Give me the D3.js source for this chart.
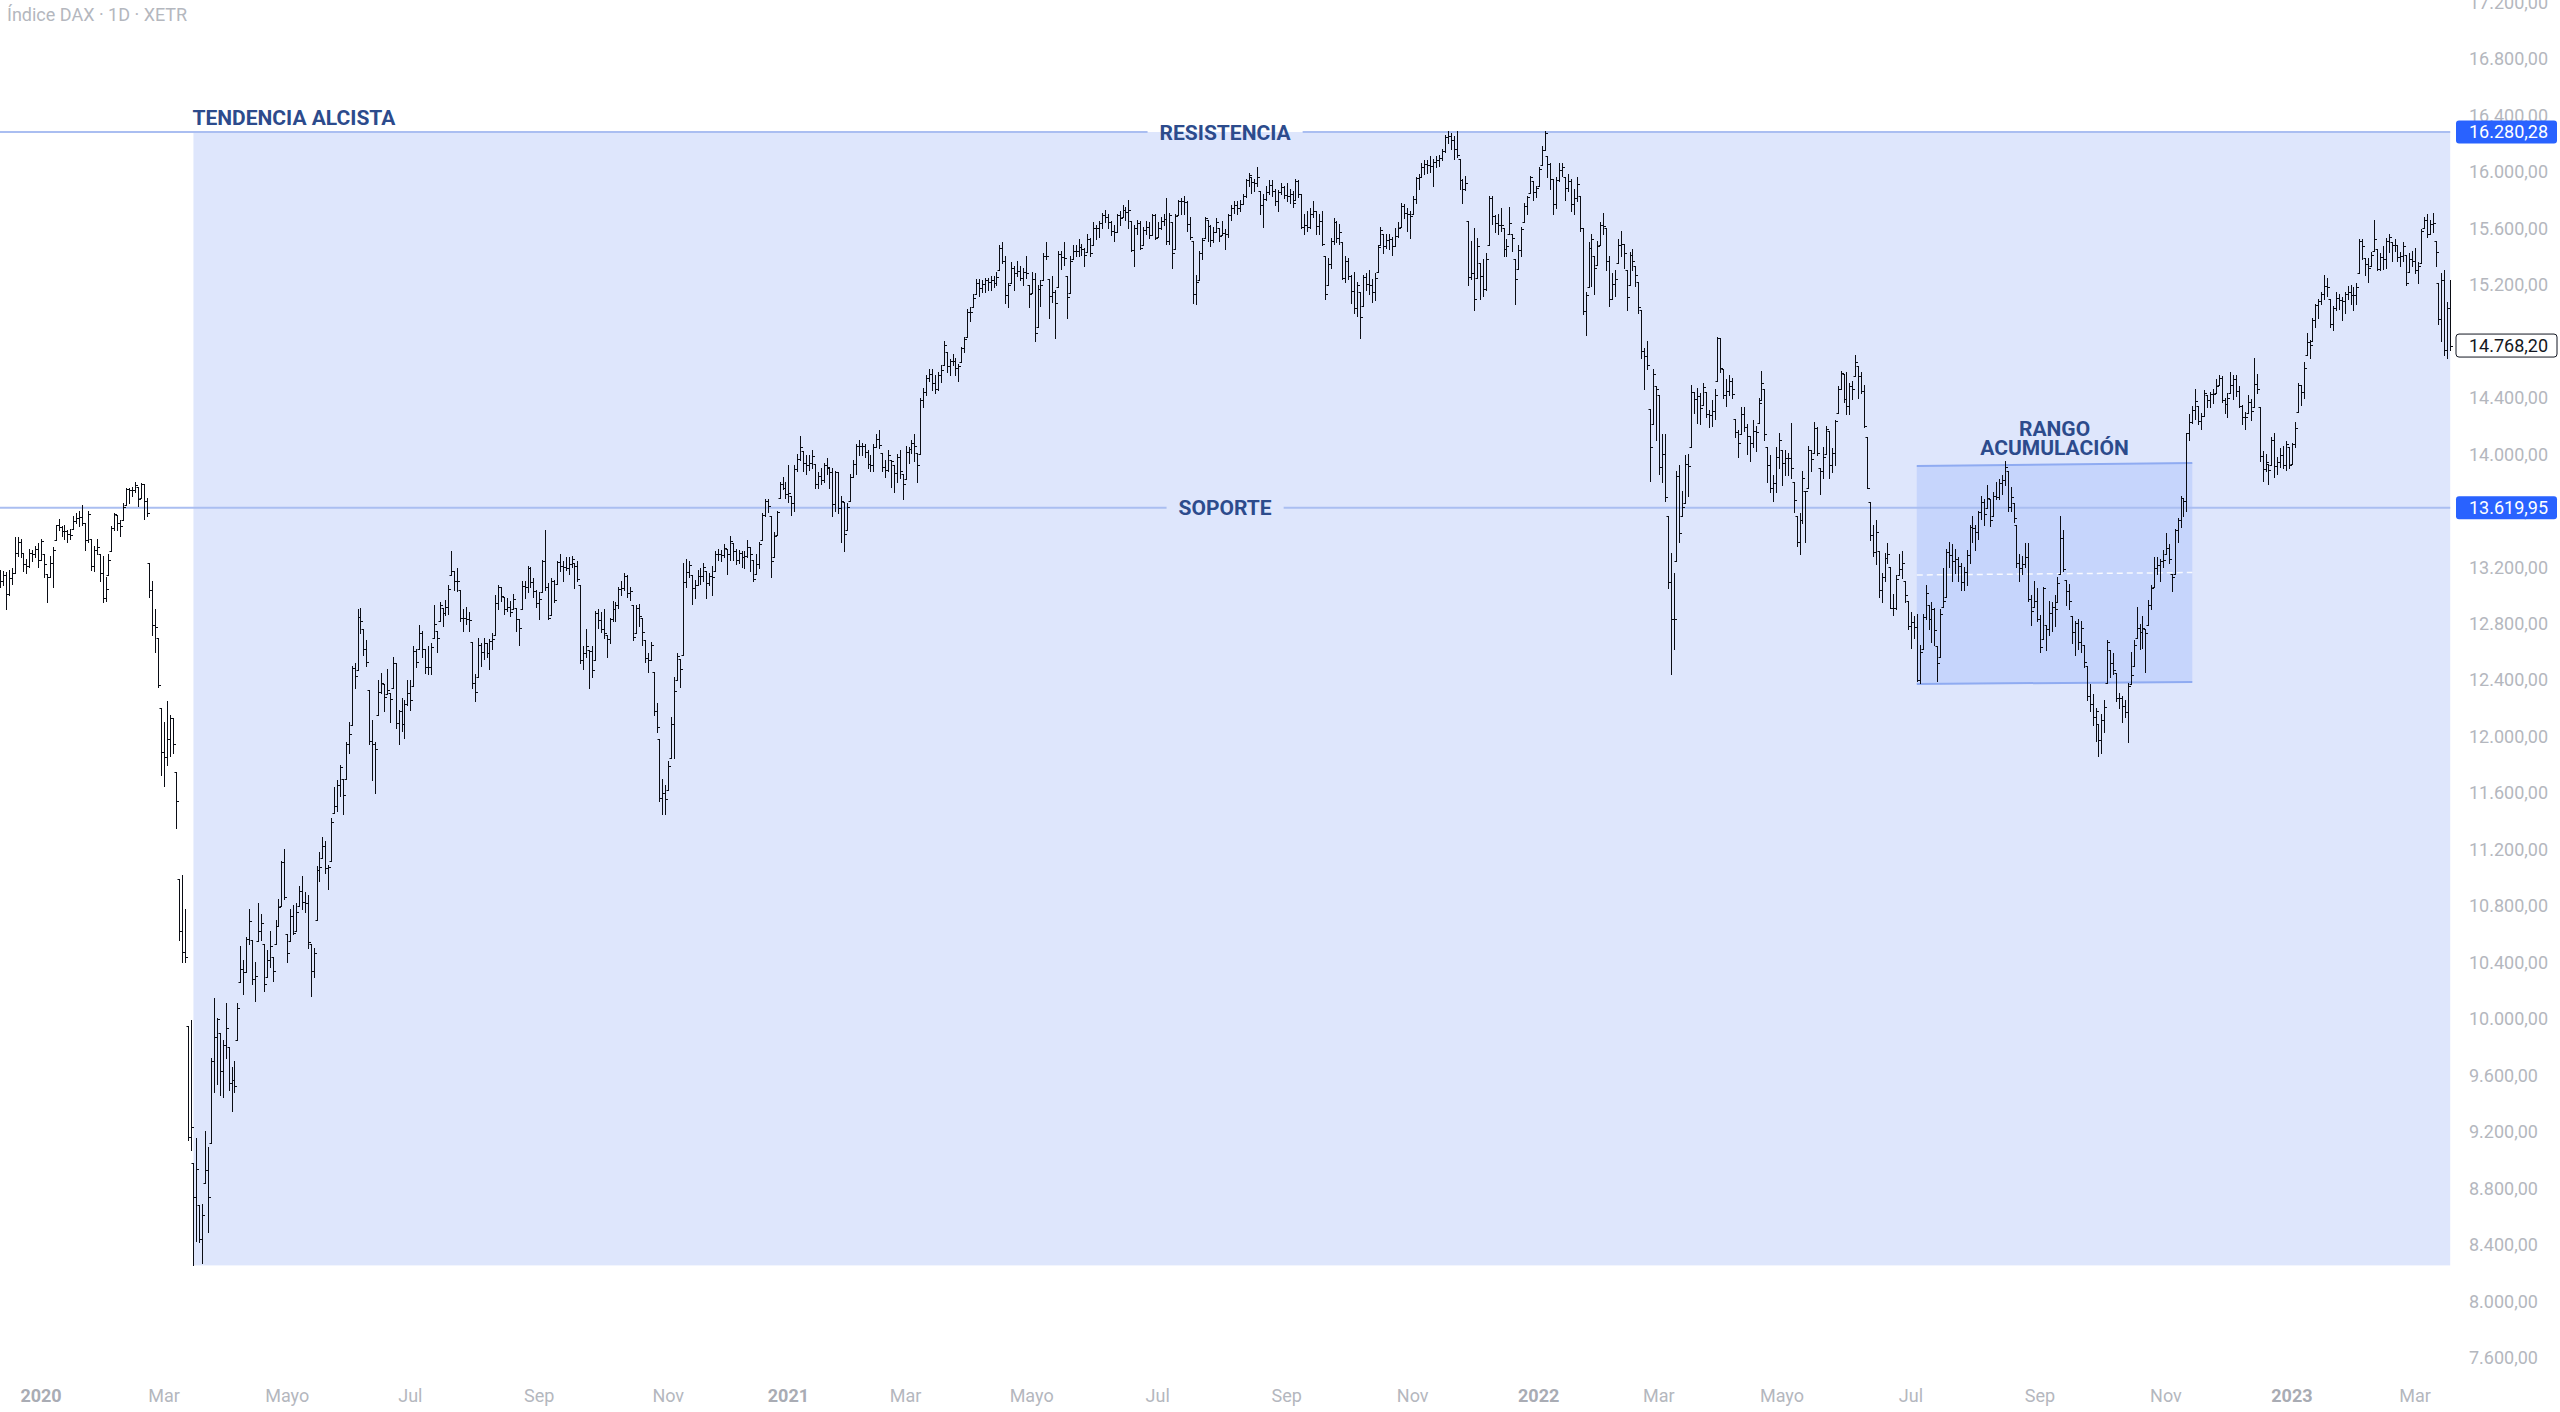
<!DOCTYPE html>
<html><head><meta charset="utf-8">
<script src="https://cdn.jsdelivr.net/npm/d3@7"></script>
<style>
html,body{margin:0;padding:0;background:#ffffff;}
svg{display:block;}
</style></head><body>
<svg id="chart" width="2560" height="1412"></svg>
<script>
// ---------------- DATA ----------------
const chartTitle = "Índice DAX · 1D · XETR";
// daily bars [high, low, close]; open = previous close (kept within the bar's range)
const firstOpen = 13120;
const bars2019 = [ // Dec 2019 (visible part)
[13180,13060,13100],[13170,13070,13140],[13165,12900,13010],[13180,13000,13120],[13190,13080,13160],[13410,13160,13300],[13410,13280,13380],[13400,13270,13300],[13300,13170,13220],[13260,13160,13210],[13330,13200,13300],[13320,13240,13290],[13350,13270,13330],[13370,13200,13250]];
const bars2020 = [
[13400,13250,13386],[13290,13130,13219],[13150,12950,13127],[13280,13130,13227],[13340,13060,13320],[13500,13390,13495],[13540,13460,13483],[13490,13420,13452],[13500,13400,13456],[13460,13380,13432],[13470,13400,13429],[13560,13470,13526],[13580,13510,13549],[13600,13490,13556],[13640,13500,13515],[13510,13320,13388],[13600,13380,13577],[13400,13180,13205],[13350,13170,13324],[13400,13290,13345],[13290,13100,13158],[13280,12950,12982],
[13130,12960,13046],[13290,13140,13250],[13490,13310,13479],[13580,13460,13575],[13570,13460,13514],[13530,13420,13494],[13650,13530,13628],[13760,13640,13750],[13760,13650,13745],[13770,13700,13745],[13800,13730,13784],[13770,13630,13682],[13795,13690,13789],[13790,13540,13665],[13690,13560,13579],[13230,12990,13035],[13100,12720,12791],[12900,12600,12775],[12700,12350,12367],[12200,11730,11890],
[12100,11650,11857],[12250,11800,11985],[12150,11860,12128],[12130,11880,11944],[11750,11350,11542],[10990,10560,10625],[11020,10400,10475],[10780,10400,10439],[9950,9140,9161],[9990,9070,9232],[8980,8255,8742],[9160,8430,8939],[8680,8420,8441],[8690,8270,8610],[9210,8840,8929],[9090,8490,8742],[9720,9120,9701],[10150,9480,9874],[10010,9540,10000],[9900,9460,9633],[9850,9450,9816],[10110,9720,9936],
[9800,9500,9544],[9660,9350,9571],[9700,9480,9525],[10110,9850,10075],[10520,10260,10356],[10420,10180,10333],[10580,10330,10565],[10780,10530,10697],[10560,10250,10280],[10400,10130,10301],[10820,10550,10626],[10740,10560,10676],[10530,10200,10250],[10490,10300,10416],[10620,10370,10514],[10440,10270,10337],[10700,10530,10660],[10850,10660,10796],[11120,10800,11108],[11200,10850,10862],
[10600,10400,10467],[10780,10550,10730],[10810,10600,10607],[10820,10620,10760],[10940,10800,10905],[11010,10780,10825],[10900,10760,10820],[10880,10500,10542],[10530,10160,10337],[10500,10300,10465],[11080,10700,11058],[11180,10980,11075],[11290,11140,11223],[11260,11030,11066],[11090,10920,11074],[11420,11120,11392],[11640,11460,11505],[11690,11470,11657],[11800,11580,11781],[11700,11450,11587],
[11960,11700,11945],[12100,11880,12021],[12500,12080,12487],[12520,12340,12431],[12900,12470,12848],[12910,12730,12820],[12760,12580,12617],[12680,12500,12530],[12330,11950,11970],[12120,11690,11949],[11960,11600,11911],[12400,12150,12315],[12450,12310,12382],[12370,12180,12281],[12480,12300,12331],[12310,12100,12262],[12560,12340,12523],[12520,12060,12093],[12190,11950,12177],[12270,12040,12089],[12260,11990,12232],[12400,12220,12311],
[12400,12190,12260],[12640,12360,12608],[12620,12490,12528],[12790,12620,12733],[12750,12560,12616],[12620,12450,12495],[12640,12440,12489],[12660,12440,12633],[12930,12700,12800],[12750,12600,12697],[12950,12820,12931],[12910,12780,12874],[12970,12860,12920],[13070,12870,13046],[13313,13140,13171],[13170,13040,13104],[13190,13030,13103],[13040,12820,12838],[12900,12750,12839],[12920,12800,12835],[12880,12750,12822],[12670,12340,12379],[12440,12250,12313],
[12700,12420,12647],[12660,12500,12600],[12700,12550,12660],[12660,12560,12591],[12690,12480,12674],[12730,12620,12687],[13000,12720,12947],[13070,12900,13058],[13060,12960,12993],[12990,12870,12901],[12980,12890,12920],[12960,12850,12882],[13010,12900,12977],[12910,12750,12830],[12830,12650,12765],[13100,12900,13067],[13100,12980,13062],[13210,13020,13190],[13200,13060,13096],[13120,12990,13033],[13040,12920,12945],
[13020,12830,12974],[13250,13020,13243],[13460,13040,13057],[13090,12830,12842],[13120,12860,13100],[13110,12950,12968],[13240,13080,13237],[13290,13170,13209],[13240,13100,13203],[13270,13180,13194],[13270,13150,13218],[13280,13200,13255],[13230,13050,13208],[13240,13100,13116],[13070,12520,12542],[12640,12480,12594],[12760,12560,12643],[12610,12340,12607],[12640,12420,12469],[12890,12540,12871],[12900,12770,12826],[12880,12740,12761],
[12900,12700,12731],[12720,12560,12689],[12840,12660,12829],[12960,12820,12906],[12950,12820,12928],[13060,12910,13042],[13100,13000,13051],[13160,13040,13138],[13140,12990,13019],[13060,12970,13028],[12930,12680,12704],[12930,12730,12909],[12940,12780,12854],[12840,12650,12737],[12680,12530,12558],[12590,12460,12543],[12670,12540,12646],[12460,12150,12178],[12240,12030,12064],[11980,11540,11561],[11700,11450,11598],[11660,11450,11556],
[11830,11620,11789],[12140,11850,12089],[12420,11850,12325],[12590,12400,12568],[12550,12350,12480],[13230,12580,13096],[13260,13060,13164],[13240,13130,13217],[13140,12940,13053],[13110,12980,13076],[13180,13070,13139],[13190,13080,13134],[13230,13100,13202],[13170,12980,13086],[13160,13070,13137],[13210,13000,13127],[13310,13170,13292],[13330,13250,13290],[13320,13240,13286],[13360,13270,13335],[13330,13150,13291],
[13420,13250,13382],[13370,13250,13313],[13330,13220,13252],[13320,13230,13299],[13310,13200,13271],[13310,13190,13278],[13390,13270,13340],[13340,13170,13295],[13250,13100,13114],[13290,13150,13223],[13380,13190,13362],[13580,13390,13565],[13680,13560,13667],[13680,13590,13630],[13560,13130,13246],[13450,13270,13418],[13600,13430,13587],[13800,13690,13790],[13840,13750,13761],[13800,13690,13719]];
const bars2021 = [
[13920,13660,13726],[13700,13570,13652],[13920,13600,13892],[14000,13880,13968],[14130,13960,14050],[14020,13880,13937],[13990,13860,13925],[13990,13890,13940],[14030,13900,13989],[13930,13760,13788],[13870,13760,13848],[13900,13790,13816],[13940,13800,13921],[13970,13860,13906],[13900,13760,13874],[13900,13560,13644],[13880,13600,13871],[13870,13580,13620],[13700,13380,13666],[13660,13310,13433],
[13650,13460,13622],[13860,13670,13835],[13960,13840,13933],[14070,13860,14060],[14100,13990,14057],[14080,13990,14060],[14070,13980,14012],[14030,13900,13932],[13990,13880,13921],[14070,13880,14050],[14140,14050,14109],[14170,14040,14065],[14010,13880,13909],[13960,13840,13887],[14030,13880,13993],[13960,13770,13950],[13920,13730,13865],[14000,13800,13976],[14030,13830,13879],[13860,13680,13786],
[14060,13820,14012],[14050,13940,14039],[14100,14010,14080],[14140,13950,14056],[14010,13800,13920],[14400,14000,14380],[14470,14330,14437],[14560,14420,14540],[14600,14520,14569],[14600,14450,14502],[14560,14430,14461],[14580,14450,14557],[14630,14510,14596],[14800,14630,14775],[14720,14580,14621],[14670,14560,14657],[14710,14630,14662],[14680,14560,14610],[14640,14520,14621],[14760,14650,14749],[14830,14720,14818],[15030,14830,15009],[15040,14940,15008],
[15130,15040,15107],[15240,15130,15212],[15240,15120,15177],[15230,15150,15203],[15250,15150,15234],[15250,15160,15215],[15260,15160,15234],[15260,15180,15209],[15290,15200,15255],[15480,15300,15460],[15500,15350,15368],[15400,15070,15129],[15210,15040,15195],[15360,15210,15320],[15330,15160,15280],[15370,15260,15296],[15330,15230,15249],[15320,15200,15292],[15400,15250,15285],[15200,15040,15136],
[15290,15140,15236],[15280,14800,14856],[15200,14900,15171],[15230,15050,15197],[15420,15230,15400],[15500,15380,15400],[15240,14960,15120],[15260,15080,15150],[15160,14820,15069],[15440,15180,15417],[15440,15310,15397],[15500,15340,15386],[15260,14960,15114],[15400,15140,15370],[15480,15380,15438],[15480,15400,15438],[15520,15400,15465],[15490,15410,15451],[15460,15330,15406],[15560,15430,15520],[15530,15400,15421],
[15640,15480,15603],[15620,15520,15602],[15650,15540,15633],[15710,15600,15693],[15730,15640,15677],[15700,15600,15640],[15650,15550,15581],[15620,15510,15571],[15700,15570,15693],[15720,15620,15674],[15760,15680,15729],[15750,15660,15711],[15800,15600,15727],[15650,15440,15448],[15620,15330,15603],[15660,15560,15637],[15650,15450,15456],[15610,15480,15589],[15650,15560,15607],[15640,15530,15554],[15700,15550,15691],[15700,15520,15531],
[15640,15540,15603],[15680,15590,15650],[15700,15620,15661],[15810,15490,15511],[15710,15490,15692],[15640,15320,15421],[15700,15450,15688],[15800,15690,15790],[15810,15700,15790],[15830,15700,15788],[15790,15580,15630],[15680,15520,15540],[15510,15070,15133],[15270,15060,15216],[15440,15230,15422],[15530,15380,15514],[15680,15530,15669],[15660,15510,15618],[15620,15470,15519],[15610,15500,15570],[15670,15570,15640],[15600,15510,15544],
[15650,15550,15568],[15590,15450,15555],[15700,15540,15692],[15760,15660,15744],[15790,15710,15761],[15790,15700,15745],[15800,15720,15770],[15840,15770,15826],[15950,15820,15937],[15990,15900,15977],[15960,15850,15925],[15950,15860,15921],[16030,15900,15965],[15860,15700,15765],[15840,15610,15808],[15900,15800,15852],[15940,15840,15906],[15940,15830,15860],[15880,15760,15794],[15870,15720,15852],[15920,15840,15888],[15900,15810,15835],
[15920,15790,15824],[15880,15780,15840],[15860,15750,15781],[15950,15800,15932],[15940,15820,15843],[15840,15600,15610],[15700,15560,15623],[15720,15580,15609],[15740,15600,15701],[15790,15680,15722],[15720,15560,15616],[15700,15560,15652],[15720,15480,15490],[15400,15100,15132],[15390,15200,15349],[15530,15320,15506],[15670,15490,15644],[15650,15500,15532],[15630,15490,15574],[15500,15240,15249],[15400,15220,15365],[15390,15240,15261],
[15270,15070,15156],[15290,15000,15036],[15220,14980,15195],[15150,14820,14973],[15270,15050,15252],[15280,15160,15207],[15300,15130,15200],[15240,15080,15147],[15280,15090,15250],[15480,15290,15463],[15610,15480,15587],[15560,15420,15474],[15560,15460,15516],[15560,15450,15523],[15540,15410,15472],[15600,15470,15543],[15640,15540,15600],[15780,15610,15757],[15770,15670,15705],[15740,15580,15697],[15720,15530,15689],
[15830,15700,15807],[15960,15780,15955],[15980,15880,15960],[16060,15960,16030],[16080,15980,16054],[16080,15990,16046],[16110,16000,16040],[16090,15900,16067],[16110,16030,16083],[16120,16040,16094],[16160,16080,16148],[16260,16140,16248],[16290,16200,16251],[16270,16160,16221],[16250,16090,16160],[16290,16100,16116],[16090,15880,15937],[15950,15780,15878],[15970,15870,15917],[15650,15200,15257],[15510,15240,15280],[15600,15020,15100],
[15530,15250,15473],[15350,15100,15263],[15380,15120,15170],[15420,15160,15380],[15830,15480,15813],[15830,15630,15687],[15690,15570,15639],[15700,15560,15623],[15740,15580,15622],[15600,15400,15453],[15520,15400,15476],[15750,15560,15636],[15560,15440,15532],[15380,15060,15239],[15480,15310,15447],[15610,15400,15593],[15780,15640,15756],[15830,15700,15822],[15970,15850,15964],[15930,15800,15852],[15900,15820,15885]];
const bars2022 = [
[16030,15900,16020],[16180,16050,16152],[16285,16150,16271],[16110,15960,16052],[16060,15880,15948],[15950,15700,15768],[15960,15740,15942],[16060,15930,16010],[16060,15970,16031],[15960,15800,15883],[15980,15860,15933],[15950,15720,15773],[15880,15700,15810],[15960,15790,15912],[15830,15580,15603],[15600,14990,15011],[15150,14840,15123],[15500,15180,15460],[15560,15190,15524],[15400,15130,15318],[15510,15340,15471],
[15640,15480,15619],[15710,15560,15613],[15600,15300,15368],[15400,15050,15100],[15280,15100,15207],[15300,15120,15242],[15520,15350,15482],[15580,15400,15490],[15490,15320,15425],[15300,15020,15113],[15430,15200,15412],[15450,15300,15370],[15330,15190,15267],[15220,15000,15042],[15020,14680,14731],[14750,14460,14693],[14800,14600,14631],[14320,13810,14052],[14600,14210,14567],[14480,14100,14461],
[14420,13860,13905],[14140,13800,14000],[14140,13670,13698],[13560,13050,13094],[13300,12439,12835],[13160,12620,12832],[13880,13240,13848],[13920,13380,13443],[13740,13560,13628],[13990,13650,13929],[14000,13700,13918],[14490,14050,14441],[14440,14290,14388],[14470,14220,14413],[14430,14210,14326],[14500,14350,14474],[14440,14260,14283],[14310,14190,14274],[14380,14200,14306],[14460,14250,14418],[14830,14520,14821],[14820,14580,14606],[14600,14400,14415],
[14530,14340,14446],[14560,14420,14518],[14540,14400,14424],[14250,14120,14153],[14170,13980,14078],[14330,14140,14284],[14330,14160,14193],[14210,14000,14125],[14130,13950,14077],[14240,14050,14164],[14200,14020,14154],[14400,14220,14362],[14590,14380,14502],[14460,14100,14142],[14050,13800,13924],[13990,13730,13757],[13850,13670,13794],[14050,13730,13979],[14150,13900,14098],
[14030,13780,13940],[14030,13850,13970],[14010,13850,13971],[14220,13830,13902],[13800,13590,13674],[13560,13350,13380],[13580,13290,13535],[13880,13510,13828],[13740,13380,13739],[14060,13760,14028],[14030,13880,13964],[14230,14010,14186],[14190,13990,14008],[13900,13720,13882],[14050,13830,13982],[14200,14000,14175],[14160,13830,13919],[14040,13870,14008],[14240,13920,14232],[14480,14290,14462],[14590,14460,14575],[14570,14370,14388],
[14580,14280,14340],[14500,14280,14485],[14520,14390,14460],[14700,14550,14653],[14620,14400,14556],[14580,14430,14445],[14490,14190,14198],[14120,13760,13762],[13660,13390,13427],[13500,13280,13304],[13530,13220,13447],[13310,12990,13038],[13160,12950,13126],[13300,13100,13265],[13370,13230,13292],[13200,12910,12913],[13010,12860,12912],[13140,12900,13118],[13290,13140,13186],[13310,13120,13231],[13100,12950,13003],[12960,12760,12784],
[12880,12630,12813],[12850,12700,12773],[12870,12390,12401],[12650,12380,12595],[12870,12620,12843],[13070,12830,13015],[12930,12760,12832],[12950,12670,12905],[12910,12650,12756],[12640,12390,12519],[12900,12560,12864],[13190,12920,12959],[13330,12990,13308],[13380,13200,13282],[13360,13100,13246],[13330,13160,13254],[13270,13100,13210],[13230,13040,13097],[13200,13040,13166],[13320,13070,13282],[13500,13230,13484],
[13560,13380,13479],[13500,13320,13449],[13600,13400,13587],[13700,13540,13662],[13680,13500,13574],[13780,13620,13688],[13680,13490,13535],[13730,13560,13700],[13800,13680,13694],[13820,13680,13795],[13850,13720,13816],[13950,13780,13910],[13880,13600,13626],[13770,13600,13697],[13650,13520,13544],[13500,13200,13230],[13290,13100,13194],[13280,13150,13220],[13370,13200,13272],[13370,12960,12971],[13000,12790,12892],[13100,12920,12961],[13050,12820,12835],
[12860,12600,12631],[13060,12690,13050],[12790,12610,12761],[12960,12720,12871],[12950,12750,12916],[13000,12780,12904],[13130,12950,13088],[13560,13150,13402],[13460,13170,13189],[13110,12930,13028],[13080,12900,12957],[12850,12660,12741],[12820,12580,12803],[12830,12620,12671],[12820,12600,12767],[12650,12490,12531],[12500,12260,12284],[12370,12180,12227],[12300,12080,12140],[12200,11970,12183],[12090,11862,11976],[12160,11880,12114],
[12260,12030,12209],[12680,12380,12670],[12610,12420,12517],[12590,12440,12471],[12450,12250,12273],[12310,12200,12272],[12290,12100,12219],[12260,12140,12172],[12380,11960,12356],[12600,12370,12438],[12680,12500,12649],[12920,12700,12765],[12800,12620,12741],[12850,12630,12767],[12760,12460,12731],[12970,12790,12931],[13070,12900,13053],[13270,13060,13195],[13270,13150,13211],[13260,13100,13243],[13320,13200,13253],
[13440,13290,13338],[13360,13230,13256],[13150,13030,13130],[13470,13150,13460],[13550,13380,13533],[13700,13480,13688],[13690,13560,13666],[14150,13600,14146],[14280,14100,14224],[14340,14220,14313],[14460,14250,14379],[14340,14210,14234],[14290,14180,14266],[14450,14270,14431],[14420,14330,14380],[14440,14330,14422],[14460,14360,14428],[14530,14430,14484],[14560,14490,14541],[14550,14370,14383],[14400,14290,14355],[14430,14260,14397],
[14580,14430,14490],[14560,14390,14529],[14560,14410,14448],[14480,14330,14343],[14350,14210,14261],[14300,14180,14264],[14420,14290,14371],[14390,14240,14307],[14680,14330,14497],[14570,14430,14460],[14330,13950,13987],[14020,13810,13893],[14000,13880,13942],[13930,13790,13884],[14120,13920,14098],[14150,13840,13914],[13980,13860,13941],[14040,13910,13995],[14060,13900,13925],[14090,13890,14072],[14050,13900,13924]];
const bars2023 = [
[14080,13930,14069],[14230,14050,14181],[14500,14300,14490],[14490,14350,14436],[14650,14400,14610],[14860,14700,14792],[14810,14680,14774],[14960,14800,14947],[15060,14900,15058],[15100,14960,15087],[15150,15060,15134],[15270,15100,15187],[15250,15120,15181],[15100,14900,14920],[15050,14880,15033],[15150,15020,15103],[15130,15030,15094],[15110,14950,15082],[15150,15000,15132],[15190,15100,15150],[15200,15060,15126],[15180,15020,15128],
[15210,15060,15181],[15520,15280,15509],[15520,15380,15476],[15390,15270,15346],[15390,15220,15320],[15430,15330,15412],[15660,15440,15523],[15450,15300,15308],[15420,15300,15397],[15470,15310,15380],[15530,15320,15507],[15560,15430,15534],[15500,15370,15482],[15520,15440,15478],[15480,15370,15398],[15430,15330,15400],[15500,15370,15475],[15410,15200,15210],[15420,15290,15381],[15440,15330,15365],
[15460,15280,15305],[15360,15210,15328],[15590,15350,15578],[15680,15600,15654],[15700,15540,15559],[15660,15560,15631],[15710,15570,15633],[15510,15330,15428],[15210,14920,14959],[15280,14800,15233],[15300,14700,14735],[15080,14680,15037],[15230,14740,14768.2]];

// trading days per month, used for the time axis
const years = [2020, 2021, 2022, 2023];
const monthLengths2020 = [22,20,22,20,20,22,23,21,22,22,21,20];
const monthLengths2021 = [20,20,23,20,21,22,22,22,22,21,22,21];
const monthLengths2022 = [21,20,23,19,22,22,21,23,22,21,22,21];
const monthLengths2023 = [22,20,13];
const monthNames = ["", "Ene","Feb","Mar","Abr","Mayo","Jun","Jul","Ago","Sep","Oct","Nov","Dic"];
const labelMonths = [1,3,5,7,9,11];

const priceTickValues = [7600,8000,8400,8800,9200,9600,10000,10400,10800,11200,11600,12000,12400,12800,13200,13600,14000,14400,14800,15200,15600,16000,16400,16800,17200];

const resistanceLevel = 16280.28;
const supportLevel = 13619.95;
const lastPrice = 14768.20;
const trendLow = 8255;
const trendStart = {year: 2020, month: 3, day: 11};     // 16 Mar 2020 (11th session)
const channelStart = {year: 2022, month: 7, day: 3};    // 5 Jul 2022
const channelEnd = {year: 2022, month: 11, day: 10};    // 14 Nov 2022
const channelTop = [13915, 13936];
const channelBottom = [12372, 12386];

const annotations = {trend: "TENDENCIA ALCISTA", resistance: "RESISTENCIA", support: "SOPORTE", range: ["RANGO", "ACUMULACIÓN"]};

// ---------------- BUILD ----------------
const monthLengths = {2020: monthLengths2020, 2021: monthLengths2021, 2022: monthLengths2022, 2023: monthLengths2023};
const barsByYear = {2020: bars2020, 2021: bars2021, 2022: bars2022, 2023: bars2023};
const allBars = [].concat(bars2019, bars2020, bars2021, bars2022, bars2023);
const data = allBars.map((b, i) => {
  const prev = i === 0 ? firstOpen : allBars[i-1][2];
  const o = Math.max(b[1], Math.min(b[0], prev));
  return {i, o, h: b[0], l: b[1], c: b[2]};
});

const mismatches = [];
years.forEach(y => { const s = d3.sum(monthLengths[y]); if (s !== barsByYear[y].length) mismatches.push(y + ": " + barsByYear[y].length + " vs " + s); });

function sessionIndex(p) {
  let idx = bars2019.length;
  for (const y of years) {
    if (y < p.year) { idx += d3.sum(monthLengths[y]); continue; }
    for (let m = 1; m < p.month; m++) idx += monthLengths[y][m-1];
    return idx + p.day - 1;
  }
}

const W = 2560, H = 1412;
const plotRight = 2450.2;
const svg = d3.select("#chart");
const x = d3.scaleLinear().domain([0, data.length - 1]).range([0, plotRight]);
const y = d3.scaleLinear().domain([16800, 7600]).range([58.6, 1357.9]);
const fmt = d3.formatLocale({decimal: ",", thousands: ".", grouping: [3], currency: ["", ""]}).format(",.2f");

const FONT = "Roboto, 'Liberation Sans', sans-serif";
const BOLD = "Roboto, 'Liberation Sans', sans-serif";
const navy = "#2c4b8c";
const lineBlue = "#aabef1";

svg.append("rect").attr("width", W).attr("height", H).attr("fill", "#ffffff");

// time ticks
const timeTicks = [];
years.forEach(y0 => {
  labelMonths.forEach(m => {
    if (m <= monthLengths[y0].length) {
      const idx = sessionIndex({year: y0, month: m, day: 1});
      timeTicks.push({idx, label: m === 1 ? String(y0) : monthNames[m], year: m === 1});
    }
  });
});

const plot = svg.append("g");
plot.append("clipPath").attr("id", "clip").append("rect").attr("x", 0).attr("y", 0).attr("width", 2456).attr("height", 1380);
const g = plot.append("g").attr("clip-path", "url(#clip)");

// trend area
const tx0 = x(sessionIndex(trendStart));
g.append("rect")
  .attr("x", tx0).attr("y", y(resistanceLevel))
  .attr("width", x(data.length - 1) - tx0)
  .attr("height", y(trendLow) - y(resistanceLevel))
  .attr("fill", "#dee6fc");

// accumulation channel
const ci0 = sessionIndex(channelStart), ci1 = sessionIndex(channelEnd);
const cx0 = x(ci0), cx1 = x(ci1);
g.append("path")
  .attr("d", `M${cx0},${y(channelTop[0])}L${cx1},${y(channelTop[1])}L${cx1},${y(channelBottom[1])}L${cx0},${y(channelBottom[0])}Z`)
  .attr("fill", "rgba(41,98,255,0.13)");
[channelTop, channelBottom].forEach(lv => {
  g.append("line").attr("x1", cx0).attr("x2", cx1).attr("y1", y(lv[0])).attr("y2", y(lv[1]))
    .attr("stroke", "#8fabf1").attr("stroke-width", 2);
});
g.append("line").attr("x1", cx0).attr("x2", cx1)
  .attr("y1", y((channelTop[0] + channelBottom[0]) / 2)).attr("y2", y((channelTop[1] + channelBottom[1]) / 2))
  .attr("stroke", "rgba(255,255,255,0.85)").attr("stroke-width", 1.5).attr("stroke-dasharray", "6,4");

// horizontal levels with centred labels
function level(val, label) {
  const yy = y(val);
  const t = g.append("text").attr("x", plotRight / 2).attr("y", yy).attr("dy", "0.36em")
    .attr("text-anchor", "middle").attr("font-family", BOLD).attr("font-weight", 700)
    .attr("font-size", 21).attr("fill", navy).text(label);
  const w = t.node().getComputedTextLength();
  const gap = w / 2 + 12;
  g.insert("line", "text").attr("x1", 0).attr("x2", plotRight / 2 - gap).attr("y1", yy).attr("y2", yy)
    .attr("stroke", lineBlue).attr("stroke-width", 2);
  g.insert("line", "text").attr("x1", plotRight / 2 + gap).attr("x2", plotRight).attr("y1", yy).attr("y2", yy)
    .attr("stroke", lineBlue).attr("stroke-width", 2);
}
level(resistanceLevel, annotations.resistance);
level(supportLevel, annotations.support);

// bars
const bx = d => Math.round(x(d.i)) + 0.5;
const by = v => Math.round(y(v)) + 0.5;
g.append("path")
  .attr("d", data.map(d => {
    const xx = bx(d);
    return `M${xx},${Math.round(y(d.h))}V${Math.round(y(d.l)) + 1}M${xx - 2},${by(d.o)}H${xx}M${xx},${by(d.c)}H${xx + 2.5}`;
  }).join(""))
  .attr("fill", "none").attr("stroke", "#0b0d14").attr("stroke-width", 1);

// annotation texts
g.append("text").attr("x", tx0 - 1).attr("y", y(resistanceLevel) - 7)
  .attr("font-family", BOLD).attr("font-weight", 700).attr("font-size", 21).attr("fill", navy)
  .text(annotations.trend);
const ccx = (cx0 + cx1) / 2, ctop = Math.min(y(channelTop[0]), y(channelTop[1]));
g.append("text").attr("x", ccx).attr("y", ctop - 27).attr("text-anchor", "middle")
  .attr("font-family", BOLD).attr("font-weight", 700).attr("font-size", 21).attr("fill", navy).text(annotations.range[0]);
g.append("text").attr("x", ccx).attr("y", ctop - 8).attr("text-anchor", "middle")
  .attr("font-family", BOLD).attr("font-weight", 700).attr("font-size", 21).attr("fill", navy).text(annotations.range[1]);

// price axis
const axisG = svg.append("g");
axisG.selectAll("text.tick").data(priceTickValues).join("text")
  .attr("class", "tick").attr("x", 2469).attr("y", d => y(d)).attr("dy", "0.36em")
  .attr("font-family", FONT).attr("font-size", 18).attr("fill", "#b4b7be").text(d => fmt(d));

function priceLabel(val, fill, textFill, stroke) {
  const yy = y(val);
  axisG.append("rect").attr("x", 2456).attr("y", yy - 11.5).attr("width", 101).attr("height", 23).attr("rx", 3)
    .attr("fill", fill).attr("stroke", stroke || "none").attr("stroke-width", 1);
  axisG.append("text").attr("x", 2469).attr("y", yy).attr("dy", "0.36em")
    .attr("font-family", FONT).attr("font-size", 18).attr("fill", textFill).text(fmt(val));
}
priceLabel(resistanceLevel, "#2962ff", "#ffffff");
priceLabel(supportLevel, "#2962ff", "#ffffff");
priceLabel(lastPrice, "#ffffff", "#131722", "#131722");

// time axis
svg.append("g").selectAll("text").data(timeTicks).join("text")
  .attr("x", d => x(d.idx)).attr("y", 1396).attr("dy", "0.36em").attr("text-anchor", "middle")
  .attr("font-family", FONT).attr("font-size", 18)
  .attr("font-weight", d => d.year ? 700 : 400)
  .attr("fill", d => d.year ? "#a9acb4" : "#b4b7be")
  .text(d => d.label);

// title
svg.append("text").attr("x", 7).attr("y", 21).attr("font-family", FONT).attr("font-size", 18)
  .attr("fill", "#b4b7be").text(chartTitle);

if (mismatches.length) svg.append("text").attr("x", 600).attr("y", 40).attr("fill", "red").attr("font-size", 30).text("MISMATCH " + mismatches.join(" | "));
</script></body></html>
